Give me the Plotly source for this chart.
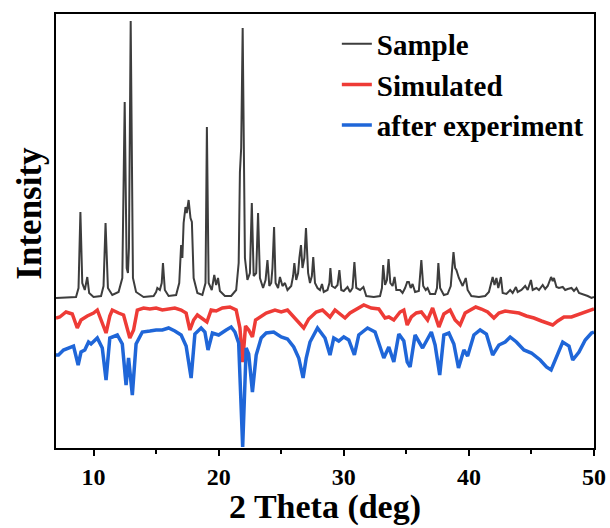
import plotly.graph_objects as go

# 2 theta (deg) and intensity (a.u., offset stacked)
sample_2theta = [7.0, 8.6, 8.8, 8.95, 9.1, 9.3, 9.5, 9.65, 10.0, 10.6, 10.8, 10.96, 11.15, 11.5,
                 12.0, 12.3, 12.49, 12.65, 12.75, 12.83, 12.97, 13.15, 13.4, 14.0, 14.8, 15.0,
                 15.1, 15.3, 15.45, 15.55, 15.7, 16.0, 16.6, 16.85, 17.0, 17.1, 17.2, 17.35,
                 17.45, 17.6, 17.75, 17.86, 18.0, 18.3, 18.7, 18.95, 19.06, 19.2, 19.45, 19.65,
                 19.8, 19.95, 20.1, 20.5, 21.0, 21.4, 21.6, 21.7, 21.8, 21.92, 22.1, 22.3, 22.5,
                 22.65, 22.8, 23.0, 23.15, 23.3, 23.55, 23.75, 23.9, 24.05, 24.2, 24.3, 24.43,
                 24.55, 24.75, 24.9, 25.1, 25.3, 25.5, 25.8, 25.95, 26.05, 26.2, 26.35, 26.45,
                 26.58, 26.7, 26.85, 26.98, 27.15, 27.3, 27.45, 27.56, 27.7, 27.9, 28.1, 28.26,
                 28.4, 28.7, 28.85, 28.93, 29.05, 29.3, 29.5, 29.65, 29.8, 30.0, 30.3, 30.5,
                 30.7, 30.85, 31.0, 31.3, 31.57, 31.8, 32.4, 32.9, 33.05, 33.15, 33.3, 33.45,
                 33.58, 33.72, 33.9, 34.06, 34.2, 34.5, 34.7, 34.9, 35.07, 35.2, 35.35, 35.5,
                 35.7, 36.0, 36.2, 36.35, 36.55, 36.7, 36.9, 37.3, 37.45, 37.56, 37.7, 38.0,
                 38.3, 38.55, 38.77, 38.9, 39.0, 39.2, 39.35, 39.5, 39.75, 39.9, 40.2, 40.8,
                 41.3, 41.6, 41.9, 42.05, 42.2, 42.35, 42.56, 42.7, 43.0, 43.3, 43.5, 43.76,
                 43.9, 44.2, 44.5, 44.7, 44.96, 45.1, 45.4, 45.6, 45.9, 46.1, 46.3, 46.57,
                 46.7, 46.8, 47.0, 47.2, 47.5, 47.7, 47.9, 48.2, 48.4, 48.6, 48.8, 49.1, 49.5,
                 49.8, 50.0]
sample_int = [150, 151, 160, 236, 165, 158, 171, 155, 151, 152, 162, 225, 160, 153,
              156, 170, 346, 180, 175, 200, 427, 170, 156, 151, 152, 156,
              160, 158, 165, 185, 158, 152, 153, 165, 203, 190, 225, 241,
              235, 248, 230, 226, 170, 155, 153, 165, 321, 165, 158, 173,
              163, 170, 157, 152, 152, 158, 185, 276, 300, 420, 190, 168, 175,
              245, 172, 175, 235, 170, 160, 168, 188, 162, 165, 180, 221,
              165, 160, 171, 162, 165, 158, 162, 172, 185, 168, 175, 190,
              203, 180, 190, 220, 175, 165, 172, 191, 165, 160, 158, 164,
              156, 158, 165, 180, 162, 160, 163, 178, 158, 157, 161, 156,
              160, 186, 160, 158, 161, 152, 151, 152, 160, 183, 163, 168,
              189, 165, 162, 171, 158, 158, 155, 160, 166, 166, 160, 164,
              156, 157, 188, 162, 158, 160, 154, 154, 160, 185, 160, 153,
              154, 162, 196, 180, 178, 170, 165, 162, 170, 158, 152, 151,
              152, 156, 171, 163, 170, 160, 171, 155, 154, 158, 155, 161,
              156, 158, 162, 158, 168, 158, 160, 158, 163, 159, 162, 171,
              167, 170, 161, 160, 161, 158, 159, 160, 157, 160, 155, 154, 152,
              150, 151]

simulated_2theta = [7.0, 7.3, 7.8, 8.3, 8.7, 9.0, 9.5, 10.0, 10.3, 10.7, 11.0, 11.3, 11.5,
                    12.0, 12.4, 12.9, 13.2, 13.5, 14.0, 14.5, 15.0, 15.5, 16.0, 16.5, 17.0,
                    17.4, 17.7, 18.0, 18.3, 18.6, 19.06, 19.4, 19.8, 20.3, 20.9, 21.4, 21.7,
                    21.92, 22.15, 22.4, 22.7, 22.95, 23.3, 23.8, 24.5, 25.0, 25.5, 26.0, 26.5,
                    26.8, 27.2, 27.8, 28.3, 28.9, 29.3, 29.7, 30.1, 30.5, 31.0, 31.6, 32.2,
                    32.8, 33.3, 33.6, 34.0, 34.5, 34.8, 35.07, 35.4, 35.8, 36.2, 36.7, 37.1,
                    37.6, 38.0, 38.5, 38.9, 39.3, 39.7, 40.1, 40.55, 41.0, 41.5, 42.0, 42.4,
                    42.9, 43.5, 44.0, 44.6, 45.2, 45.8, 46.2, 46.7, 47.1, 47.6, 48.2, 48.7,
                    49.2, 49.8, 50.0]
simulated_int = [130, 131, 136, 134, 120, 128, 132, 135, 138, 125, 115, 132, 138,
                 135, 133, 110, 118, 138, 140, 139, 140, 138, 139, 140, 138,
                 135, 118, 128, 133, 130, 126, 138, 137, 140, 141, 138, 120,
                 86, 122, 118, 111, 128, 131, 135, 138, 136, 138, 131, 124,
                 120, 129, 136, 138, 131, 138, 134, 130, 135, 139, 143, 140,
                 139, 130, 131, 128, 136, 138, 123, 131, 135, 136, 128, 140,
                 121, 134, 138, 128, 123, 135, 138, 141, 139, 136, 130, 135,
                 137, 136, 135, 132, 130, 127, 125, 123, 127, 131, 131, 133,
                 135, 138, 139]

after_2theta = [7.0, 7.2, 7.6, 8.0, 8.4, 8.77, 9.0, 9.3, 9.6, 9.8, 10.3, 10.7, 11.0, 11.3,
                11.9, 12.3, 12.6, 12.8, 13.1, 13.4, 13.9, 14.5, 15.0, 15.5, 16.0, 16.5,
                17.0, 17.4, 17.8, 18.1, 18.6, 18.9, 19.15, 19.5, 20.0, 20.6, 21.0, 21.3,
                21.6, 21.92, 22.2, 22.4, 22.7, 23.0, 23.4, 23.8, 24.4, 25.0, 25.5, 26.0,
                26.4, 26.75, 27.0, 27.3, 27.9, 28.5, 28.9, 29.2, 29.6, 30.0, 30.4, 30.85,
                31.2, 31.9, 32.5, 33.2, 33.6, 34.0, 34.4, 34.8, 35.07, 35.3, 35.7, 36.3,
                36.7, 37.0, 37.3, 37.67, 38.0, 38.4, 38.8, 39.17, 39.6, 39.9, 40.4, 40.9,
                41.4, 41.9, 42.4, 42.9, 43.3, 43.8, 44.4, 45.0, 45.7, 46.2, 46.57, 46.9,
                47.5, 48.0, 48.3, 48.8, 49.3, 49.8, 50.0]
after_int = [93, 93, 98, 100, 102, 83, 96, 98, 106, 104, 110, 100, 68, 110,
             113, 104, 63, 90, 53, 104, 116, 117, 118, 118, 120, 117,
             113, 102, 70, 114, 120, 116, 98, 115, 113, 118, 121, 116,
             105, 1, 100, 94, 56, 93, 110, 115, 116, 111, 109, 101,
             90, 70, 90, 106, 120, 110, 93, 110, 107, 111, 108, 93,
             113, 120, 116, 90, 101, 86, 114, 107, 86, 81, 113, 100,
             110, 116, 103, 73, 113, 115, 104, 80, 98, 92, 113, 118,
             114, 93, 103, 106, 111, 106, 98, 95, 88, 81, 78, 88,
             106, 102, 88, 96, 108, 115, 116]

FONT = "Liberation Serif"

fig = go.Figure()
fig.add_trace(go.Scatter(x=sample_2theta, y=sample_int, mode="lines", name="Sample",
                         line=dict(color="#3d3d3d", width=2)))
fig.add_trace(go.Scatter(x=simulated_2theta, y=simulated_int, mode="lines", name="Simulated",
                         line=dict(color="#ee3b36", width=3.5)))
fig.add_trace(go.Scatter(x=after_2theta, y=after_int, mode="lines", name="after experiment",
                         line=dict(color="#1f66d8", width=3.5)))

fig.update_layout(
    width=610, height=528,
    margin=dict(l=56, r=16, t=14, b=80),
    paper_bgcolor="white", plot_bgcolor="white",
    font=dict(family=FONT, color="black", size=24),
    legend=dict(x=0.522, y=0.99, xanchor="left", yanchor="top",
                bgcolor="rgba(0,0,0,0)", font=dict(size=29, weight="bold"),
                tracegroupgap=0),
    showlegend=True,
    annotations=[
        dict(text="Intensity", xref="paper", yref="paper", x=0, y=0.54,
             xanchor="center", yanchor="middle", xshift=-26, textangle=-90,
             showarrow=False, font=dict(size=35, weight="bold")),
        # x-axis title placed as annotation so it sits just under the tick labels
        dict(text="2 Theta (deg)", xref="paper", yref="paper", x=0.5, y=0,
             xanchor="center", yanchor="middle", yshift=-59,
             showarrow=False, font=dict(size=34, weight="bold")),
    ],
)
fig.update_xaxes(
    range=[7, 50], tick0=10, dtick=10, automargin=False,
    ticks="outside", ticklen=6, tickwidth=2, tickcolor="black",
    minor=dict(dtick=5, tick0=10, ticks="outside", ticklen=4, tickwidth=2, tickcolor="black"),
    showline=True, mirror=True, linewidth=2, linecolor="black",
    showgrid=False, zeroline=False,
    tickfont=dict(size=24, weight="bold"),
)
fig.update_yaxes(
    range=[0, 434], showticklabels=False, ticks="", automargin=False,
    showline=True, mirror=True, linewidth=2, linecolor="black",
    showgrid=False, zeroline=False,
)

# page body has a default 8px margin; drop it so the figure fills the window
fig.write_html("out.html", config={"displayModeBar": False},
               post_script="document.body.style.margin='0';")
